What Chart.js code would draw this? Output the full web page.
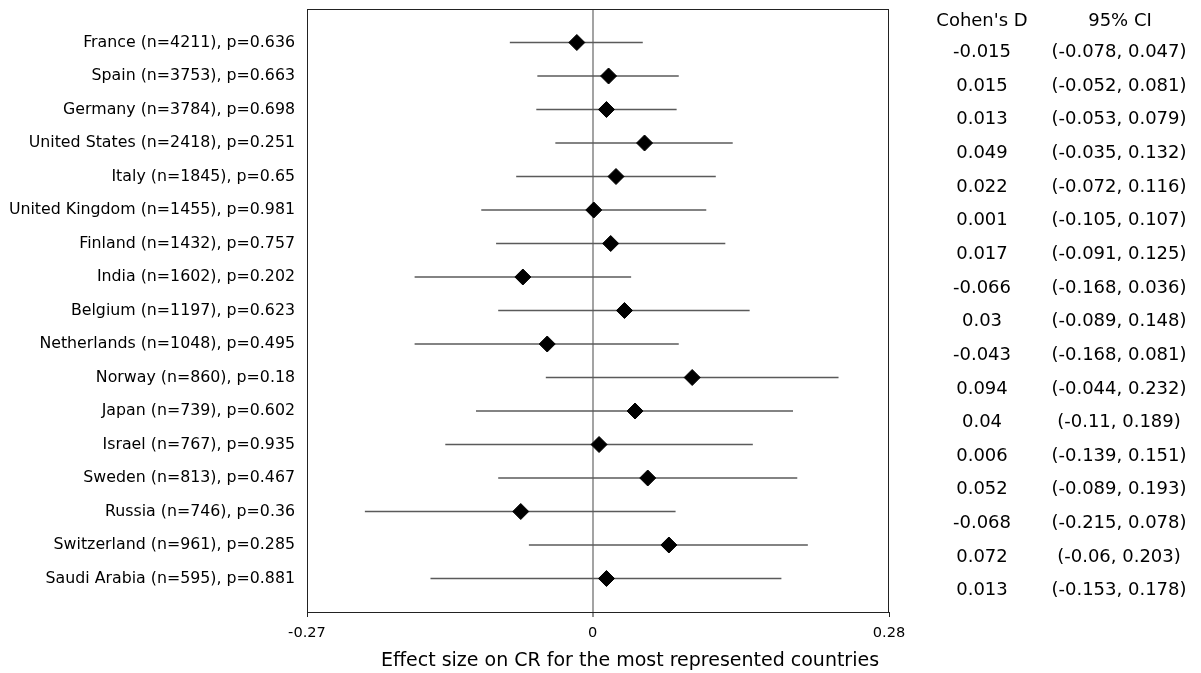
<!DOCTYPE html>
<html>
<head>
<meta charset="utf-8">
<script src="https://cdn.jsdelivr.net/npm/chart.js@4"></script>
<style>
  html, body { margin: 0; padding: 0; background: #fff; }
  #wrap { width: 1201px; height: 673px; }
</style>
</head>
<body>
<div id="wrap"><canvas id="forest" width="1201" height="673"></canvas></div>
<script>
const countries = ["France", "Spain", "Germany", "United States", "Italy", "United Kingdom", "Finland", "India",
  "Belgium", "Netherlands", "Norway", "Japan", "Israel", "Sweden", "Russia", "Switzerland", "Saudi Arabia"];
const sampleSizes = [4211, 3753, 3784, 2418, 1845, 1455, 1432, 1602, 1197, 1048, 860, 739, 767, 813, 746, 961, 595];
const pValues = [0.636, 0.663, 0.698, 0.251, 0.65, 0.981, 0.757, 0.202, 0.623, 0.495, 0.18, 0.602, 0.935, 0.467, 0.36, 0.285, 0.881];
const cohensD = [-0.015, 0.015, 0.013, 0.049, 0.022, 0.001, 0.017, -0.066, 0.03, -0.043, 0.094, 0.04, 0.006, 0.052, -0.068, 0.072, 0.013];
const ciLow = [-0.078, -0.052, -0.053, -0.035, -0.072, -0.105, -0.091, -0.168, -0.089, -0.168, -0.044, -0.11, -0.139, -0.089, -0.215, -0.06, -0.153];
const ciHigh = [0.047, 0.081, 0.079, 0.132, 0.116, 0.107, 0.125, 0.036, 0.148, 0.081, 0.232, 0.189, 0.151, 0.193, 0.078, 0.203, 0.178];
const xTicks = [-0.27, 0, 0.28];

const rowLabels = countries.map((c, i) => `${c} (n=${sampleSizes[i]}), p=${pValues[i]}`);
const FONT = "'DejaVu Sans', sans-serif";

// frame, x label and the Cohen's D / CI table on the right
const extras = {
  id: 'extras',
  afterDraw(chart) {
    const { ctx, chartArea: a, scales } = chart;
    ctx.save();
    ctx.strokeStyle = '#222';
    ctx.lineWidth = 1;
    ctx.strokeRect(a.left + 0.5, a.top + 0.5, a.right - a.left - 1, a.bottom - a.top);

    ctx.fillStyle = '#000';
    ctx.textAlign = 'center';
    ctx.font = `19px ${FONT}`;
    ctx.textBaseline = 'alphabetic';
    ctx.fillText('Effect size on CR for the most represented countries', 630, 666);

    ctx.font = `18px ${FONT}`;
    ctx.fillText("Cohen's D", 982, 26);
    ctx.fillText('95% CI', 1120, 26);
    ctx.textBaseline = 'middle';
    cohensD.forEach((d, i) => {
      const y = scales.y.getPixelForValue(i) + 10 + i * 0.14;
      ctx.fillText(String(d), 982, y);
      ctx.fillText(`(${ciLow[i]}, ${ciHigh[i]})`, 1119, y);
    });
    ctx.restore();
  }
};

new Chart(document.getElementById('forest'), {
  type: 'bar',
  data: {
    datasets: [
      {
        type: 'scatter',
        order: 0,
        data: cohensD.map((d, i) => ({ x: d, y: i })),
        pointStyle: 'rectRot',
        pointRadius: 8,
        pointBackgroundColor: '#000',
        pointBorderColor: '#000',
        pointBorderWidth: 1
      },
      {
        type: 'bar',
        order: 1,
        indexAxis: 'y',
        data: ciLow.map((lo, i) => ({ x: [lo, ciHigh[i]], y: i })),
        backgroundColor: '#5a5a5a',
        borderWidth: 0,
        barThickness: 1
      }
    ]
  },
  options: {
    responsive: false,
    animation: false,
    layout: { padding: { top: 9, right: 312, left: 0, bottom: 0 } },
    plugins: { legend: { display: false }, tooltip: { enabled: false } },
    scales: {
      x: {
        type: 'linear',
        position: 'bottom',
        offset: false,
        min: -0.27,
        max: 0.28,
        afterBuildTicks: (s) => { s.ticks = xTicks.map(v => ({ value: v })); },
        afterFit: (s) => { s.height = 61; s.paddingLeft = 0; s.paddingRight = 0; },
        border: { display: false },
        grid: {
          offset: false,
          drawOnChartArea: true,
          color: (c) => (c.tick && c.tick.value === 0 ? '#a3a3a3' : 'rgba(0,0,0,0)'),
          lineWidth: (c) => (c.tick && c.tick.value === 0 ? 2 : 1),
          drawTicks: true,
          tickLength: 5,
          tickColor: '#222',
          tickWidth: 1
        },
        ticks: {
          autoSkip: false,
          maxRotation: 0,
          padding: 7,
          color: '#000',
          font: { family: FONT, size: 14.6 },
          callback: (v) => String(v)
        }
      },
      y: {
        type: 'linear',
        reverse: true,
        offset: false,
        min: -1,
        max: 17,
        afterBuildTicks: (s) => { s.ticks = countries.map((_, i) => ({ value: i })); },
        afterFit: (s) => { s.width = 307; s.paddingTop = 0; s.paddingBottom = 0; },
        border: { display: false },
        grid: { display: false, drawTicks: false, offset: false },
        ticks: {
          autoSkip: false,
          padding: 12,
          color: '#000',
          font: { family: FONT, size: 15.8 },
          callback: (v) => rowLabels[v]
        }
      }
    }
  },
  plugins: [extras]
});
</script>
</body>
</html>
